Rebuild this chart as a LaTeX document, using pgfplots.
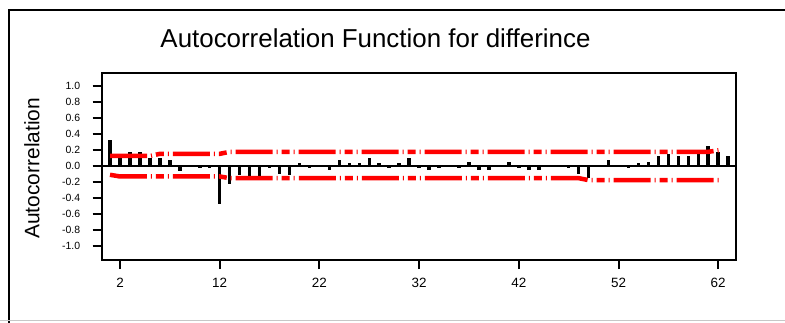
\documentclass[border=0pt]{standalone}
\usepackage{pgfplots}
\pgfplotsset{compat=1.18}
\usepackage{fontspec}
\setmainfont{Liberation Sans}
\begin{document}
\begin{tikzpicture}[x=1bp,y=1bp]
\path[use as bounding box] (0,0) rectangle (785,322);
\draw[line width=1.2bp] (9,-1) -- (9,312) -- (786,312);
\draw[black!22, line width=1.2bp] (0,1.5) -- (785,1.5);
\node[anchor=base, inner sep=0pt, font=\fontsize{26}{26}\selectfont] at (375.5,274.5) {Autocorrelation Function for differince};
\node[rotate=90, anchor=base, inner sep=0pt, font=\fontsize{21}{21}\selectfont] at (39.3,153.7) {Autocorrelation};
\begin{axis}[
  at={(101.7bp,62bp)}, anchor=south west,
  scale only axis, width=634.3bp, height=187.3bp,
  xmin=0.165, xmax=63.785, ymin=-1.175, ymax=1.166,
  axis line style={line width=2bp},
  tick style={line width=2bp, black},
  tick align=outside, major tick length=9bp,
  xtick pos=bottom, ytick pos=left,
  xtick={2,12,22,32,42,52,62},
  xticklabels={2,12,22,32,42,52,62},
  ytick={-1,-0.8,-0.6,-0.4,-0.2,0,0.2,0.4,0.6,0.8,1},
  yticklabels={-1.0,-0.8,-0.6,-0.4,-0.2,0.0,0.2,0.4,0.6,0.8,1.0},
  xticklabel style={font=\fontsize{13.5}{13.5}\selectfont, yshift=-6bp},
  yticklabel style={font=\fontsize{10.5}{10.5}\selectfont, xshift=-9bp},
  clip=true,
]
\addplot[black, line width=1.8bp, mark=none] coordinates {(0.165,0) (63.785,0)};
\addplot[ycomb, black, line width=3.5bp, mark=none] table {
x y
1 0.33
2 0.12
3 0.17
4 0.17
5 0.10
6 0.10
7 0.07
8 -0.06
9 0.01
10 -0.03
11 -0.03
12 -0.475
13 -0.225
14 -0.11
15 -0.12
16 -0.12
17 -0.03
18 -0.10
19 -0.11
20 0.04
21 -0.03
22 0.01
23 -0.05
24 0.07
25 0.04
26 0.04
27 0.10
28 0.04
29 -0.02
30 0.04
31 0.10
32 -0.03
33 -0.05
34 -0.03
35 0.01
36 -0.03
37 0.05
38 -0.05
39 -0.05
40 0.01
41 0.05
42 -0.03
43 -0.05
44 -0.05
45 0.004
46 -0.01
47 -0.025
48 -0.10
49 -0.15
50 -0.01
51 0.075
52 0.004
53 -0.025
54 0.04
55 0.045
56 0.12
57 0.15
58 0.12
59 0.12
60 0.15
61 0.245
62 0.175
63 0.12
};
\addplot[red, line width=4.5bp, line cap=butt, mark=none,
  dash pattern=on 37bp off 4bp on 1bp off 4bp on 8bp off 4bp on 1bp off 4bp]
  coordinates {(1,0.125) (5,0.125) (6,0.152) (12,0.152) (13,0.177) (61,0.177) (62.3,0.2)};
\addplot[red, line width=4.5bp, line cap=butt, mark=none,
  dash pattern=on 37bp off 4bp on 1bp off 4bp on 8bp off 4bp on 1bp off 4bp]
  coordinates {(1,-0.11) (2,-0.131) (12,-0.131) (13,-0.152) (48,-0.152) (49,-0.177) (62.3,-0.177)};
\end{axis}
\end{tikzpicture}
\end{document}
